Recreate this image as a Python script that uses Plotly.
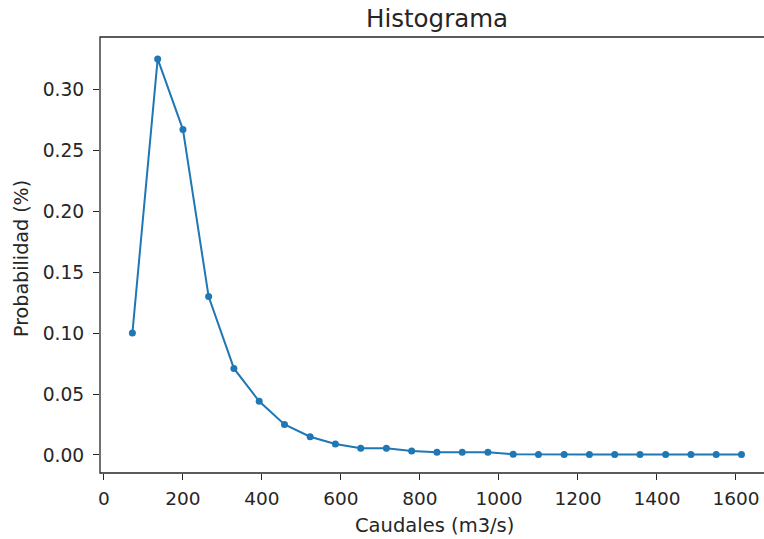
import plotly.graph_objects as go

caudales = [72, 136, 200, 265, 329, 393, 457, 522, 586, 650, 715, 779, 843, 907,
            972, 1036, 1100, 1165, 1229, 1293, 1357, 1422, 1486, 1550, 1614]
probabilidad = [0.100, 0.325, 0.267, 0.130, 0.071, 0.044, 0.025, 0.015, 0.009, 0.0055,
                0.0055, 0.0033, 0.0022, 0.0022, 0.0022, 0.0006, 0.0003, 0.0003, 0.0003,
                0.0003, 0.0003, 0.0003, 0.0003, 0.0003, 0.0003]
x_ticks = [0, 200, 400, 600, 800, 1000, 1200, 1400, 1600]
y_ticks = [0.00, 0.05, 0.10, 0.15, 0.20, 0.25, 0.30]

blue = "#1f77b4"
font = "DejaVu Sans"
ink = "#262626"

fig = go.Figure()
fig.add_trace(go.Scatter(
    x=caudales, y=probabilidad, mode="lines+markers",
    line=dict(color=blue, width=2),
    marker=dict(color=blue, size=7),
    showlegend=False,
))

W, H = 764, 539
L, R, T, B = 100, 0, 37, 66
PW, PH = W - L - R, H - T - B

def px_x(x):
    return (x - L) / PW

def px_y(y):
    return (H - B - y) / PH

fig.update_layout(
    width=W, height=H,
    margin=dict(l=L, r=R, t=T, b=B, autoexpand=False),
    paper_bgcolor="white", plot_bgcolor="white",
    font=dict(family=font, size=18, color=ink),
    xaxis=dict(
        range=[-10, 1671], tickvals=x_ticks, ticktext=[str(v) for v in x_ticks],
        ticks="outside", ticklen=6, tickwidth=1.3, tickcolor=ink,
        showgrid=False, zeroline=False, showline=False, automargin=False,
        tickfont=dict(size=18.5), ticklabelstandoff=3,
    ),
    yaxis=dict(
        range=[-0.0148, 0.343], tickvals=y_ticks, ticktext=[f"{v:.2f}" for v in y_ticks],
        ticks="outside", ticklen=6, tickwidth=1.3, tickcolor=ink,
        showgrid=False, zeroline=False, showline=False, automargin=False,
        tickfont=dict(size=18.7), ticklabelstandoff=5,
    ),
    shapes=[dict(type="rect", xref="paper", yref="paper", x0=0, x1=1.004, y0=0, y1=1,
                 line=dict(color=ink, width=1.3), layer="above")],
    annotations=[
        dict(text="Histograma", xref="paper", yref="paper",
             x=px_x(437), y=px_y(19), xanchor="center", yanchor="middle",
             showarrow=False, font=dict(size=24.5, color=ink)),
        dict(text="Caudales (m3/s)", xref="paper", yref="paper",
             x=px_x(435), y=px_y(525), xanchor="center", yanchor="middle",
             showarrow=False, font=dict(size=19.5, color=ink)),
        dict(text="Probabilidad (%)", xref="paper", yref="paper",
             x=px_x(21), y=px_y(259), xanchor="center", yanchor="middle",
             textangle=-90, showarrow=False, font=dict(size=19.1, color=ink)),
    ],
)

fig.write_html(
    "out.html",
    config={"displayModeBar": False},
    post_script="document.body.style.margin='0';document.body.style.overflow='hidden';",
)
